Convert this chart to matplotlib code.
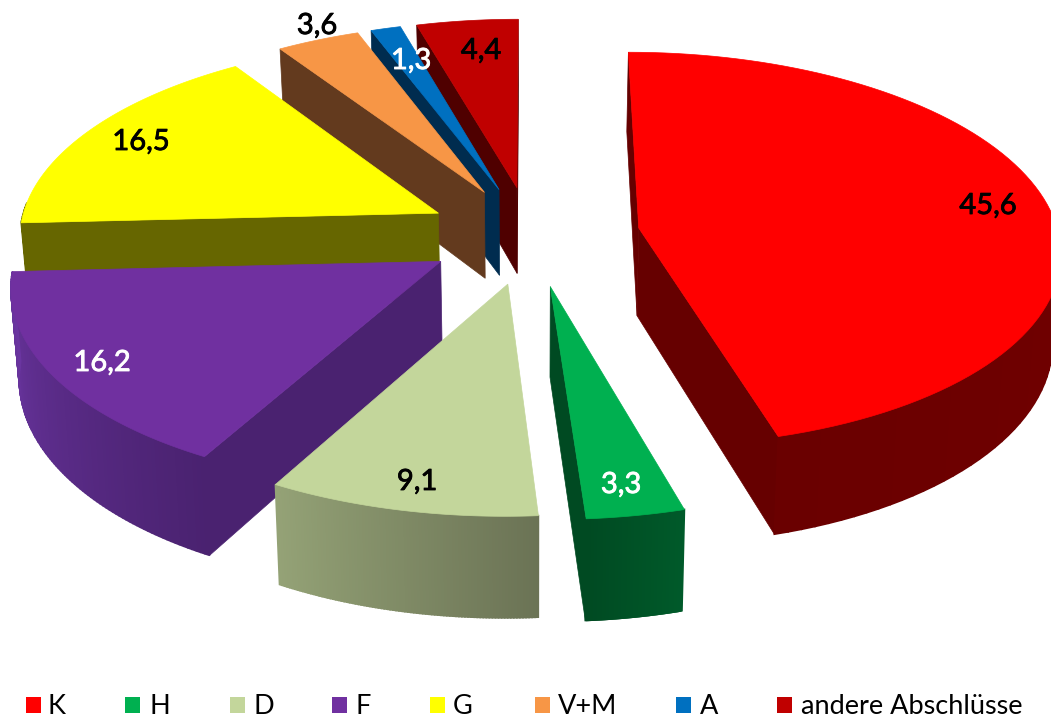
import numpy as np
import matplotlib

matplotlib.use("Agg")
import matplotlib.pyplot as plt
import matplotlib.patheffects as pe
from matplotlib.patches import Polygon, Rectangle

plt.rcParams["font.family"] = ["Lato", "DejaVu Sans"]

# Daten
categories = ["K", "H", "D", "F", "G", "V+M", "A", "andere Abschlüsse"]
values = [45.6, 3.3, 9.1, 16.2, 16.5, 3.6, 1.3, 4.4]
value_labels = ["45,6", "3,3", "9,1", "16,2", "16,5", "3,6", "1,3", "4,4"]

# Farben: Oberseite, Schnittflaeche, Aussenflaeche (Anfang/Ende des Verlaufs)
top_colors = ["#ff0000", "#00b050", "#c3d69b", "#7030a0", "#ffff00", "#f79646", "#0070c0", "#c00000"]
cut_colors = ["#660000", "#004a22", "#6f7558", "#4a2270", "#666600", "#633a1e", "#002c4f", "#4f0000"]
rim_start = ["#7a0000", "#005a2a", "#6b7355", "#4a2270", "#666600", "#633a1e", "#002c4f", "#4f0000"]
rim_end = ["#6a0000", "#004a22", "#94a276", "#6a35a0", "#666600", "#633a1e", "#002c4f", "#4f0000"]
label_colors = ["black", "white", "black", "white", "black", "black", "white", "black"]

# Layout (Pixel)
label_pos = [(988, 206), (621, 485), (417, 482), (102, 363), (141, 142), (317, 26), (411, 61), (481, 51)]
legend_box = [26, 125, 230, 332, 430, 535, 676, 777]
legend_text = [48, 149, 253, 356, 453, 558, 700, 801]
explode = [0.26, 0.26, 0.25, 0.25, 0.25, 0.25, 0.25, 0.25]

# Kameramodell
CX, CY = 531, 235
SX, SY = 420, 196
PERSP = 0.107
DEPTH = 88
DRAW_ORDER = [7, 6, 5, 0, 4, 3, 1, 2]


def project(x, y, z=0.0):
    w = 1 + PERSP * y
    px = CX + SX * x / w * (1 - 0.016 * z)
    py = CY - SY * y / w + DEPTH * z / w
    return np.column_stack([px, py])


def mix(c1, c2, t):
    a = np.array(matplotlib.colors.to_rgb(c1))
    b = np.array(matplotlib.colors.to_rgb(c2))
    return a + (b - a) * t


def signed_area(p):
    x, y = p[:, 0], p[:, 1]
    return 0.5 * np.sum(x * np.roll(y, -1) - np.roll(x, -1) * y)


def draw_slice(ax, i, a0, a1):
    mid = (a0 + a1) / 2
    ox, oy = explode[i] * np.sin(mid), explode[i] * np.cos(mid)
    th = np.linspace(a0, a1, 90)
    xs = ox + np.sin(th)
    ys = oy + np.cos(th)

    # Schnittflaechen, nur wenn sie zur Kamera zeigen
    for j, sign in ((0, 1), (-1, -1)):
        xq = np.array([ox, xs[j], xs[j], ox])
        yq = np.array([oy, ys[j], ys[j], oy])
        zq = np.array([0, 0, 1, 1])
        quad = project(xq, yq, zq)
        if signed_area(quad) * sign < 0:
            ax.add_patch(Polygon(quad, closed=True, fc=cut_colors[i], ec=cut_colors[i], lw=0.5))

    # Aussenflaeche mit Verlauf
    for k in range(len(th) - 1):
        if np.cos((th[k] + th[k + 1]) / 2) > 0.02 and abs(np.sin(th[k])) < 0.999:
            continue
        xq = np.array([xs[k], xs[k + 1], xs[k + 1], xs[k]])
        yq = np.array([ys[k], ys[k + 1], ys[k + 1], ys[k]])
        zq = np.array([0, 0, 1, 1])
        col = mix(rim_start[i], rim_end[i], k / (len(th) - 2))
        ax.add_patch(Polygon(project(xq, yq, zq), closed=True, fc=col, ec=col, lw=1.2))

    # Oberseite
    top = project(np.r_[ox, xs], np.r_[oy, ys])
    ax.add_patch(Polygon(top, closed=True, fc=top_colors[i], ec=top_colors[i], lw=0.5))


fig = plt.figure(figsize=(10.51, 7.2), dpi=100)
ax = fig.add_axes([0, 0, 1, 1])
ax.set_xlim(0, 1051)
ax.set_ylim(720, 0)
ax.axis("off")

edges = np.r_[0, np.cumsum(values)] / np.sum(values) * 2 * np.pi
for i in DRAW_ORDER:
    draw_slice(ax, i, edges[i], edges[i + 1])

for i, lab in enumerate(value_labels):
    ax.text(label_pos[i][0], label_pos[i][1], lab, color=label_colors[i], fontsize=21,
            ha="center", va="center",
            path_effects=[pe.withStroke(linewidth=0.6, foreground=label_colors[i])])

for i, name in enumerate(categories):
    ax.add_patch(Rectangle((legend_box[i], 697), 15, 16, fc=top_colors[i], ec="none"))
    ax.text(legend_text[i], 706, name, fontsize=19.5, ha="left", va="center", color="black")

fig.savefig("out.png", dpi=100)
